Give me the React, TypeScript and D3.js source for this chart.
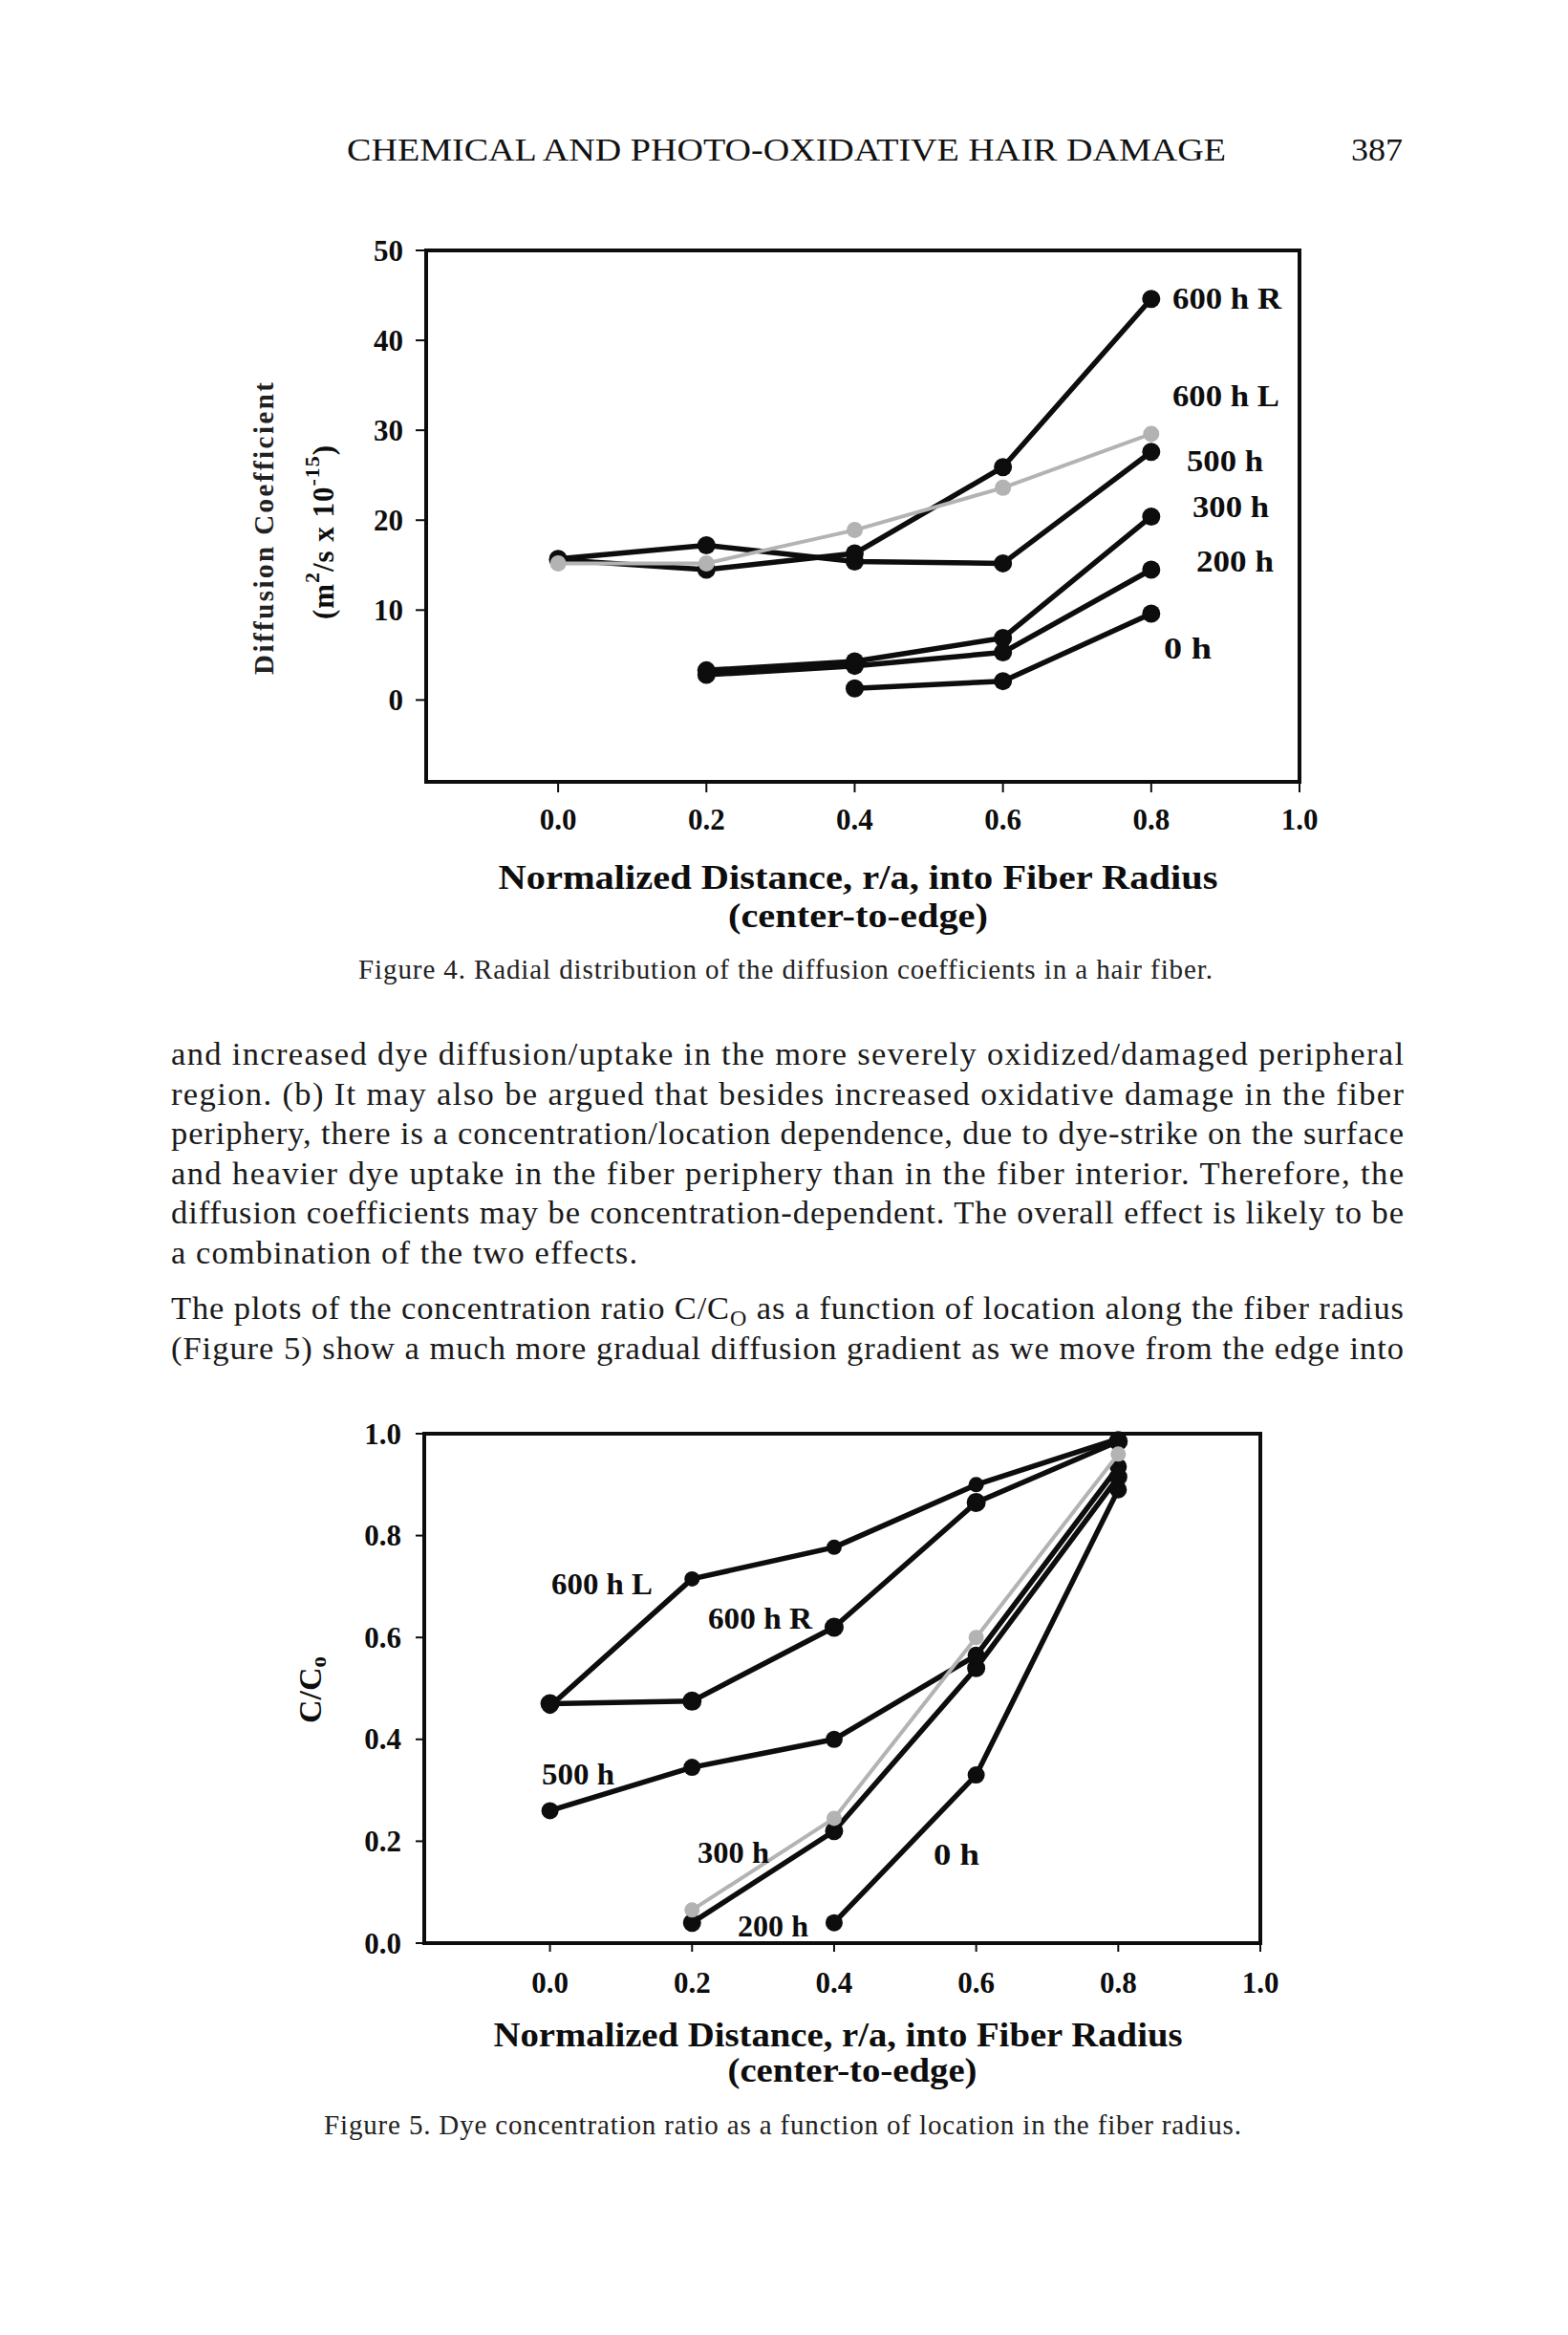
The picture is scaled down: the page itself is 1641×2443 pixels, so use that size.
import React from "react";
import * as d3 from "d3";

// ---------- shared ----------
const X_POS = [0, 0.2, 0.4, 0.6, 0.8];
const X_TICKS = [0, 0.2, 0.4, 0.6, 0.8, 1.0];

// ---------- Figure 4: diffusion coefficient ----------
const F4_Y_TICKS = [0, 10, 20, 30, 40, 50];
const F4_600R = [15.6, 14.5, 16.3, 25.9, 44.6];
const F4_600L = [15.2, 15.2, 18.9, 23.6, 29.6];
const F4_500 = [15.7, 17.2, 15.4, 15.2, 27.6];
const F4_300 = [null, 3.3, 4.3, 6.9, 20.4];
const F4_200 = [null, 2.8, 3.8, 5.3, 14.5];
const F4_0 = [null, null, 1.3, 2.1, 9.6];
const F4_NAMES = ["600 h R", "600 h L", "500 h", "300 h", "200 h", "0 h"];

// ---------- Figure 5: concentration ratio ----------
const F5_Y_TICKS = [0, 0.2, 0.4, 0.6, 0.8, 1.0];
const F5_600L = [0.465, 0.715, 0.777, 0.9, 0.99];
const F5_600R = [0.47, 0.475, 0.62, 0.865, 0.985];
const F5_500 = [0.26, 0.345, 0.4, 0.565, 0.935];
const F5_300 = [null, 0.065, 0.245, 0.6, 0.96];
const F5_200 = [null, 0.04, 0.22, 0.54, 0.915];
const F5_0 = [null, null, 0.04, 0.33, 0.89];
const F5_NAMES = ["600 h L", "600 h R", "500 h", "300 h", "200 h", "0 h"];

// ---------- page text ----------
const HEADER = "CHEMICAL AND PHOTO-OXIDATIVE HAIR DAMAGE";
const PAGE_NO = "387";
const BODY_P1 = [
  "and increased dye diffusion/uptake in the more severely oxidized/damaged peripheral",
  "region. (b) It may also be argued that besides increased oxidative damage in the fiber",
  "periphery, there is a concentration/location dependence, due to dye-strike on the surface",
  "and heavier dye uptake in the fiber periphery than in the fiber interior. Therefore, the",
  "diffusion coefficients may be concentration-dependent. The overall effect is likely to be",
];
const BODY_P1_LAST = "a combination of the two effects.";
const BODY_P2_L1A = "The plots of the concentration ratio C/C";
const BODY_P2_L1B = " as a function of location along the fiber radius";
const BODY_P2_L2 = "(Figure 5) show a much more gradual diffusion gradient as we move from the edge into";
const X_TITLE_1 = "Normalized Distance, r/a, into Fiber Radius";
const X_TITLE_2 = "(center-to-edge)";
const CAPTION_4_A = "Figure 4.";
const CAPTION_4_B = "Radial distribution of the diffusion coefficients in a hair fiber.";
const CAPTION_5_A = "Figure 5.";
const CAPTION_5_B = "Dye concentration ratio as a function of location in the fiber radius.";

const SERIF = "'Liberation Serif', 'Times New Roman', serif";
const BODY_FONT = "'Liberation Serif', 'Times New Roman', serif";

type Pt = { x: number; v: number | null };
const toPts = (vals: (number | null)[]): Pt[] => X_POS.map((x, i) => ({ x, v: vals[i] }));

function Series({ vals, xs, ys, color, width, r }: any) {
  const pts = toPts(vals);
  const line = d3
    .line<Pt>()
    .defined((d) => d.v != null)
    .x((d) => xs(d.x))
    .y((d) => ys(d.v as number));
  return (
    <g>
      <path d={line(pts) || ""} fill="none" stroke={color} strokeWidth={width} strokeLinejoin="round" />
      {pts
        .filter((d) => d.v != null)
        .map((d, i) => (
          <circle key={i} cx={xs(d.x)} cy={ys(d.v as number)} r={r} fill={color} />
        ))}
    </g>
  );
}

export default function App() {
  const f4x = d3.scaleLinear().domain([-0.178, 1.0]).range([446, 1360]);
  const f4y = d3.scaleLinear().domain([-9.1, 50]).range([818, 262]);
  const f5x = d3.scaleLinear().domain([-0.177, 1.0]).range([444, 1319]);
  const f5y = d3.scaleLinear().domain([0, 1]).range([2033, 1500]);

  const black = "#0d0d0d";
  const grey = "#b3b3b3";

  return (
    <svg
      width={1641}
      height={2443}
      viewBox="0 0 1641 2443"
      style={{ position: "absolute", left: 0, top: 0, display: "block", background: "#fff" }}
    >
      <rect x={0} y={0} width={1641} height={2443} fill="#fff" />

      {/* header */}
      <text x={363} y={168} fontFamily={BODY_FONT} fontSize={34} textLength={920} lengthAdjust="spacingAndGlyphs" fill="#111">
        {HEADER}
      </text>
      <text x={1414} y={168} fontFamily={BODY_FONT} fontSize={34} textLength={54} lengthAdjust="spacingAndGlyphs" fill="#111">
        {PAGE_NO}
      </text>

      {/* ================= Figure 4 ================= */}
      <g>
        {F4_Y_TICKS.map((t) => (
          <g key={t}>
            <line x1={435} x2={446} y1={f4y(t)} y2={f4y(t)} stroke={black} strokeWidth={2} />
            <text x={422} y={f4y(t)} textAnchor="end" dominantBaseline="central" fontFamily={SERIF} fontWeight="bold" fontSize={31} fill={black}>
              {t}
            </text>
          </g>
        ))}
        {X_TICKS.map((t) => (
          <g key={t}>
            <line x1={f4x(t)} x2={f4x(t)} y1={818} y2={829} stroke={black} strokeWidth={2} />
            <text x={f4x(t)} y={857} textAnchor="middle" dominantBaseline="central" fontFamily={SERIF} fontWeight="bold" fontSize={31} fill={black}>
              {t.toFixed(1)}
            </text>
          </g>
        ))}

        <Series vals={F4_0} xs={f4x} ys={f4y} color={black} width={5.5} r={9.5} />
        <Series vals={F4_200} xs={f4x} ys={f4y} color={black} width={5.5} r={9.5} />
        <Series vals={F4_300} xs={f4x} ys={f4y} color={black} width={5.5} r={9.5} />
        <Series vals={F4_500} xs={f4x} ys={f4y} color={black} width={5.5} r={9.5} />
        <Series vals={F4_600R} xs={f4x} ys={f4y} color={black} width={5.5} r={9.5} />
        <Series vals={F4_600L} xs={f4x} ys={f4y} color={grey} width={4} r={8.5} />

        <rect x={446} y={262} width={914} height={556} fill="none" stroke={black} strokeWidth={4} />

        {[
          [1227, 312, 114],
          [1227, 414, 112],
          [1242, 482, 80],
          [1248, 530, 80],
          [1252, 587, 81],
          [1218, 678, 50],
        ].map(([lx, ly, lw], i) => (
          <text key={i} x={lx} y={ly} dominantBaseline="central" fontFamily={SERIF} fontWeight="bold" fontSize={31} textLength={lw} lengthAdjust="spacingAndGlyphs" fill={black}>
            {F4_NAMES[i]}
          </text>
        ))}

        <g transform="translate(276,553) rotate(-90)">
          <text x={0} y={0} textAnchor="middle" dominantBaseline="central" fontFamily={SERIF} fontWeight="bold" fontSize={29} textLength={306} lengthAdjust="spacing" fill="#222">
            Diffusion Coefficient
          </text>
        </g>
        <g transform="translate(338,557) rotate(-90)">
          <text x={0} y={0} textAnchor="middle" dominantBaseline="central" fontFamily={SERIF} fontWeight="bold" fontSize={31} textLength={182} lengthAdjust="spacing" fill={black}>
            (m<tspan dy={-12} fontSize={22}>2</tspan>
            <tspan dy={12}>/s x 10</tspan>
            <tspan dy={-12} fontSize={22}>-15</tspan>
            <tspan dy={12}>)</tspan>
          </text>
        </g>

        <text x={898} y={918} textAnchor="middle" dominantBaseline="central" fontFamily={SERIF} fontWeight="bold" fontSize={36} textLength={753} lengthAdjust="spacingAndGlyphs" fill={black}>
          {X_TITLE_1}
        </text>
        <text x={898} y={958} textAnchor="middle" dominantBaseline="central" fontFamily={SERIF} fontWeight="bold" fontSize={36} textLength={272} lengthAdjust="spacingAndGlyphs" fill={black}>
          {X_TITLE_2}
        </text>

        <text x={375} y={1024} fontFamily={BODY_FONT} fontSize={29} textLength={894} lengthAdjust="spacing" fill="#222">
          {CAPTION_4_A}
          <tspan dx={8}>{CAPTION_4_B}</tspan>
        </text>
      </g>

      {/* ================= body text ================= */}
      <g fontFamily={BODY_FONT} fontSize={34.5} fill="#1a1a1a">
        {BODY_P1.map((ln, i) => (
          <text key={i} x={179} y={1114 + i * 41.6} textLength={1290} lengthAdjust="spacing">
            {ln}
          </text>
        ))}
        <text x={179} y={1114 + 5 * 41.6} textLength={488} lengthAdjust="spacing">
          {BODY_P1_LAST}
        </text>
        <text x={179} y={1380} textLength={1290} lengthAdjust="spacing">
          {BODY_P2_L1A}
          <tspan dy={7} fontSize={24}>O</tspan>
          <tspan dy={-7}>{BODY_P2_L1B}</tspan>
        </text>
        <text x={179} y={1422} textLength={1290} lengthAdjust="spacing">
          {BODY_P2_L2}
        </text>
      </g>

      {/* ================= Figure 5 ================= */}
      <g>
        {F5_Y_TICKS.map((t) => (
          <g key={t}>
            <line x1={435} x2={444} y1={f5y(t)} y2={f5y(t)} stroke={black} strokeWidth={2} />
            <text x={420} y={f5y(t)} textAnchor="end" dominantBaseline="central" fontFamily={SERIF} fontWeight="bold" fontSize={31} fill={black}>
              {t.toFixed(1)}
            </text>
          </g>
        ))}
        {X_TICKS.map((t) => (
          <g key={t}>
            <line x1={f5x(t)} x2={f5x(t)} y1={2033} y2={2042} stroke={black} strokeWidth={2} />
            <text x={f5x(t)} y={2074} textAnchor="middle" dominantBaseline="central" fontFamily={SERIF} fontWeight="bold" fontSize={31} fill={black}>
              {t.toFixed(1)}
            </text>
          </g>
        ))}

        <Series vals={F5_0} xs={f5x} ys={f5y} color={black} width={5.5} r={9} />
        <Series vals={F5_200} xs={f5x} ys={f5y} color={black} width={5.5} r={9.5} />
        <Series vals={F5_500} xs={f5x} ys={f5y} color={black} width={5.5} r={9} />
        <Series vals={F5_600R} xs={f5x} ys={f5y} color={black} width={5.5} r={10} />
        <Series vals={F5_600L} xs={f5x} ys={f5y} color={black} width={5.5} r={8} />
        <Series vals={F5_300} xs={f5x} ys={f5y} color={grey} width={4} r={8} />

        <rect x={444} y={1500} width={875} height={533} fill="none" stroke={black} strokeWidth={4} />

        {[
          [577, 1657, 106],
          [741, 1693, 109],
          [567, 1856, 76],
          [730, 1938, 75],
          [772, 2015, 74],
          [977, 1940, 48],
        ].map(([lx, ly, lw], i) => (
          <text key={i} x={lx} y={ly} dominantBaseline="central" fontFamily={SERIF} fontWeight="bold" fontSize={31} textLength={lw} lengthAdjust="spacingAndGlyphs" fill={black}>
            {F5_NAMES[i]}
          </text>
        ))}

        <g transform="translate(324,1768) rotate(-90)">
          <text x={0} y={0} textAnchor="middle" dominantBaseline="central" fontFamily={SERIF} fontWeight="bold" fontSize={34} fill={black}>
            C/C<tspan dy={9} fontSize={23}>o</tspan>
          </text>
        </g>

        <text x={877} y={2129} textAnchor="middle" dominantBaseline="central" fontFamily={SERIF} fontWeight="bold" fontSize={35} textLength={721} lengthAdjust="spacingAndGlyphs" fill={black}>
          {X_TITLE_1}
        </text>
        <text x={892} y={2166} textAnchor="middle" dominantBaseline="central" fontFamily={SERIF} fontWeight="bold" fontSize={35} textLength={261} lengthAdjust="spacingAndGlyphs" fill={black}>
          {X_TITLE_2}
        </text>

        <text x={339} y={2233} fontFamily={BODY_FONT} fontSize={29} textLength={960} lengthAdjust="spacing" fill="#222">
          {CAPTION_5_A}
          <tspan dx={8}>{CAPTION_5_B}</tspan>
        </text>
      </g>
    </svg>
  );
}
